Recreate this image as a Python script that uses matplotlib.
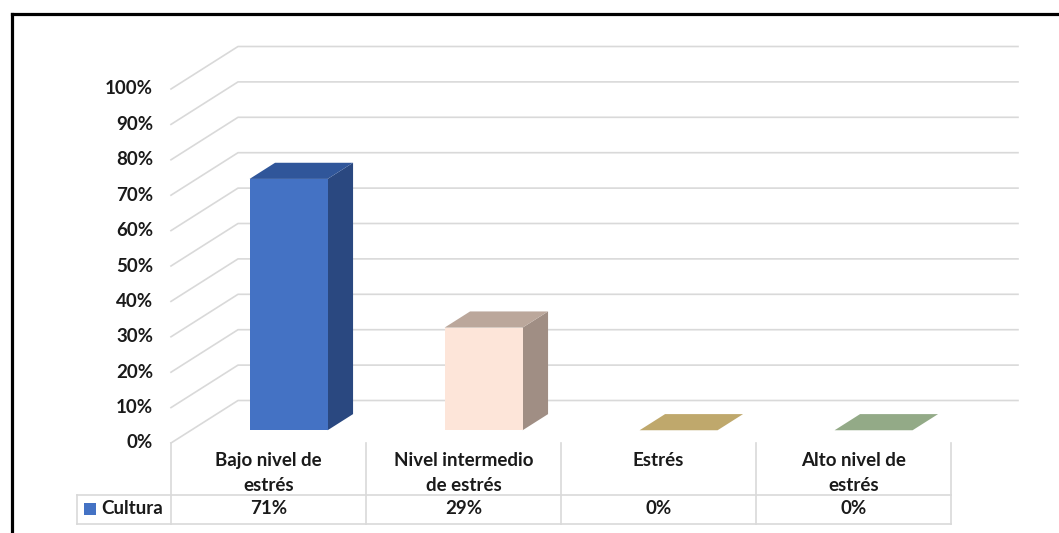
import matplotlib.pyplot as plt
from matplotlib.patches import Polygon, Rectangle
from matplotlib.lines import Line2D

# datos
categorias = ["Bajo nivel de\nestrés", "Nivel intermedio\nde estrés", "Estrés", "Alto nivel de\nestrés"]
valores = [71, 29, 0, 0]
serie = "Cultura"
ticks = list(range(0, 101, 10))

# colores de cada barra: frente, lado, techo
frentes = ["#4472C4", "#FDE5D9", "#BFA86C", "#93AA87"]
lados = ["#2A4880", "#A08E84", "#9C8954", "#76896B"]
techos = ["#30569A", "#BBA79B", "#BFA86C", "#93AA87"]

W, H = 1059, 533
fig = plt.figure(figsize=(W / 100, H / 100), dpi=100)
ax = fig.add_axes([0, 0, 1, 1])

# escala: unidades de categoria en x, porcentaje en y
X0, PX_CAT = 171, 195
Y0, PX_PCT = 443, 3.54
ax.set_xlim(-X0 / PX_CAT, (W - X0) / PX_CAT)
ax.set_ylim((Y0 - H) / PX_PCT, Y0 / PX_PCT)
ax.axis("off")

def px(p):
    return (p - X0) / PX_CAT

def py(p):
    return (Y0 - p) / PX_PCT

# vector de profundidad del grafico 3D
DX, DY = 67 / PX_CAT, 42.5 / PX_PCT

def proy(x, v, d):
    return (x + d * DX, v + d * DY)

n = len(categorias)
gris = "#D9D9D9"
texto = dict(fontsize=13.5, fontweight="bold", family="Lato", color="#1A1A1A")

# lineas de division: diagonal del piso lateral + pared del fondo
for v in ticks:
    pts = [proy(0, v, 0), proy(0, v, 1), proy(n, v, 1)]
    ax.plot([p[0] for p in pts], [p[1] for p in pts], color=gris, lw=1.2, zorder=1)
    ax.text(px(153), v, f"{v}%", ha="right", va="center", **texto)

# barras 3D
d0, d1, ancho = 0.3, 0.68, 0.4
for i, val in enumerate(valores):
    x0 = i + 0.5 - ancho / 2
    x1 = i + 0.5 + ancho / 2
    frente = [proy(x0, 0, d0), proy(x1, 0, d0), proy(x1, val, d0), proy(x0, val, d0)]
    lado = [proy(x1, 0, d0), proy(x1, 0, d1), proy(x1, val, d1), proy(x1, val, d0)]
    techo = [proy(x0, val, d0), proy(x1, val, d0), proy(x1, val, d1), proy(x0, val, d1)]
    for pts, c in ((lado, lados[i]), (frente, frentes[i]), (techo, techos[i])):
        ax.add_patch(Polygon(pts, closed=True, facecolor=c, edgecolor="none", zorder=3))

# tabla de datos
y_cab, y_fila, y_fin = 0, py(495), py(524)
x_ley = px(77)
for k in range(n + 1):
    ax.plot([k, k], [y_cab, y_fin], color=gris, lw=1.2, zorder=2)
ax.plot([x_ley, x_ley], [y_fila, y_fin], color=gris, lw=1.2, zorder=2)
for yy in (y_fila, y_fin):
    ax.plot([x_ley, n], [yy, yy], color=gris, lw=1.2, zorder=2)

for i, cat in enumerate(categorias):
    ax.text(i + 0.5, py(452), cat, ha="center", va="top", linespacing=1.6, **texto)
    ax.text(i + 0.5, py(509), f"{valores[i]}%", ha="center", va="center", **texto)

# clave de la serie
ax.add_patch(Rectangle((px(84), py(515)), px(96) - px(84), py(503) - py(515),
                       facecolor=frentes[0], edgecolor="none", zorder=3))
ax.text(px(101), py(509), serie, ha="left", va="center", **texto)

# marco negro
fig.add_artist(Line2D([11.5 / W, 11.5 / W], [0, 1 - 14 / H], color="black", lw=2.3))
fig.add_artist(Line2D([11.5 / W, 1], [1 - 14 / H, 1 - 14 / H], color="black", lw=2.3))

fig.savefig("out.png", dpi=100, facecolor="white")
